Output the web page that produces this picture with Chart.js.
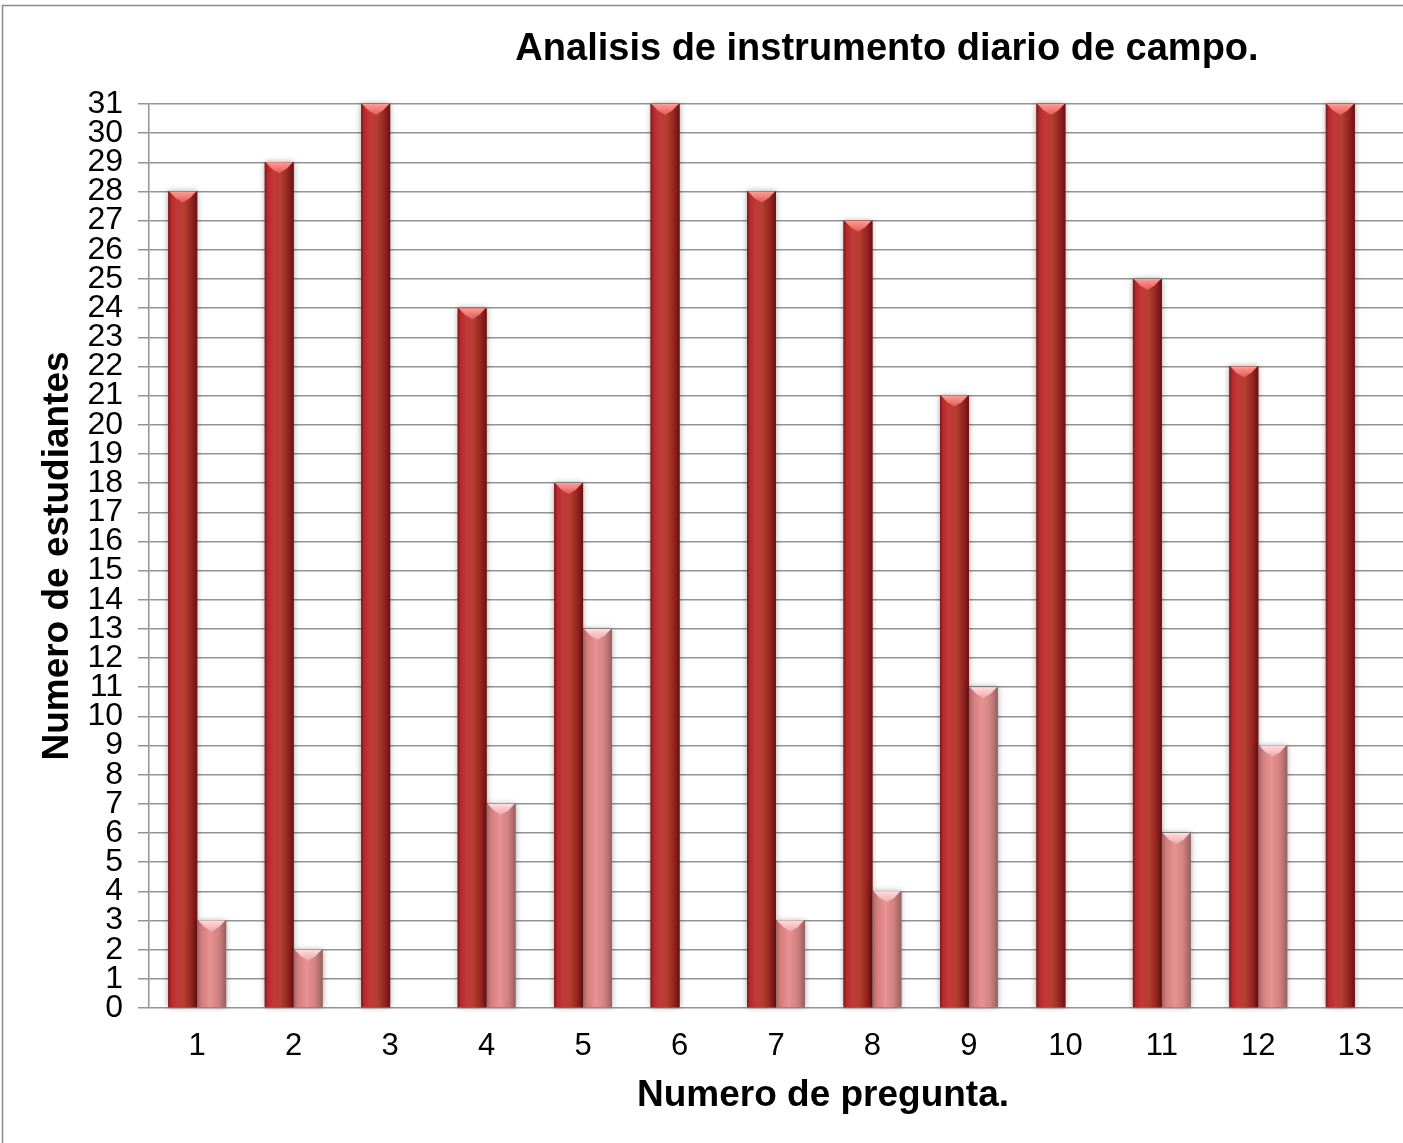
<!DOCTYPE html>
<html>
<head>
<meta charset="utf-8">
<script src="https://cdn.jsdelivr.net/npm/chart.js@4"></script>
<style>
    body { margin: 0; background: #ffffff; }
    #wrap { width: 1403px; height: 1143px; }
</style>
</head>
<body>
<div id="wrap"><canvas id="grafico" width="1403" height="1143"></canvas></div>
<script>
// Datos del grafico
const preguntas = ['1', '2', '3', '4', '5', '6', '7', '8', '9', '10', '11', '12', '13'];
const serieSi = [28, 29, 31, 24, 18, 31, 28, 27, 21, 31, 25, 22, 31];
const serieNo = [3, 2, 0, 7, 13, 0, 3, 4, 11, 0, 6, 9, 0];
const maxEje = 31;

const tituloGrafico = 'Analisis de instrumento diario de campo.';
const tituloEjeX = 'Numero de pregunta.';
const tituloEjeY = 'Numero de estudiantes';

const fuente = '"Liberation Sans", Arial, sans-serif';

// Gradient styles for the bevelled bars
const estilos = [
    {
        stops: [[0, '#7c1818'], [0.1, '#b42a2c'], [0.3, '#c4383a'], [0.55, '#b2402f'], [0.8, '#962422'], [1, '#6a1212']],
        cap: ['#e25a5a', '#ff9c94']
    },
    {
        stops: [[0, '#a06262'], [0.15, '#d27c7c'], [0.45, '#e99292'], [0.75, '#cf8080'], [1, '#956060']],
        cap: ['#f0a8a8', '#ffdcdc']
    }
];

// Frame, titles and bevelled bars
const decorPlugin = {
    id: 'decor',
    beforeDraw(chart) {
        const ctx = chart.ctx;
        ctx.save();
        ctx.fillStyle = '#ffffff';
        ctx.fillRect(0, 0, chart.width, chart.height);
        ctx.strokeStyle = '#8a8a8a';
        ctx.lineWidth = 1.5;
        ctx.strokeRect(2.5, 5.5, chart.width + 10, chart.height + 10);
        ctx.restore();
    },
    afterDatasetsDraw(chart) {
        const ctx = chart.ctx;
        chart.data.datasets.forEach((ds, di) => {
            const meta = chart.getDatasetMeta(di);
            const est = estilos[di];
            meta.data.forEach((bar, i) => {
                if (!ds.data[i]) return;
                const p = bar.getProps(['x', 'y', 'base', 'width'], true);
                const left = p.x - p.width / 2;
                const right = p.x + p.width / 2;
                const top = p.y;
                const h = p.base - p.y;

                ctx.save();
                ctx.shadowColor = 'rgba(0,0,0,0.35)';
                ctx.shadowBlur = 6;
                const g = ctx.createLinearGradient(left, 0, right, 0);
                est.stops.forEach(s => g.addColorStop(s[0], s[1]));
                ctx.fillStyle = g;
                ctx.fillRect(left, top, p.width, h);
                ctx.restore();

                // top bevel
                const capH = Math.min(11, h / 2);
                ctx.save();
                const cg = ctx.createLinearGradient(0, top, 0, top + capH);
                cg.addColorStop(0, est.cap[1]);
                cg.addColorStop(1, est.cap[0]);
                ctx.fillStyle = cg;
                ctx.beginPath();
                ctx.moveTo(left + 1, top);
                ctx.lineTo(right - 1, top);
                ctx.lineTo(right - p.width * 0.25, top + capH * 0.6);
                ctx.lineTo(p.x, top + capH);
                ctx.lineTo(left + p.width * 0.25, top + capH * 0.6);
                ctx.closePath();
                ctx.fill();
                ctx.restore();
            });
        });
    },
    afterDraw(chart) {
        const ctx = chart.ctx;
        ctx.save();
        ctx.fillStyle = '#000000';
        ctx.textAlign = 'center';
        ctx.textBaseline = 'alphabetic';
        ctx.font = 'bold 38px ' + fuente;
        ctx.fillText(tituloGrafico, 887, 60);
        ctx.font = 'bold 37px ' + fuente;
        ctx.fillText(tituloEjeX, 823, 1106);
        ctx.restore();
    }
};

const ctx = document.getElementById('grafico');
new Chart(ctx, {
    type: 'bar',
    data: {
        labels: preguntas,
        datasets: [
            {
                label: 'Si',
                data: serieSi,
                backgroundColor: '#b0302e',
                borderWidth: 0,
                barPercentage: 1,
                categoryPercentage: 0.6
            },
            {
                label: 'No',
                data: serieNo,
                backgroundColor: '#e08c8c',
                borderWidth: 0,
                barPercentage: 1,
                categoryPercentage: 0.6
            }
        ]
    },
    options: {
        responsive: false,
        animation: false,
        layout: {
            padding: { top: 104, right: 0, left: 0, bottom: 0 }
        },
        plugins: {
            legend: { display: false },
            tooltip: { enabled: false },
            title: { display: false }
        },
        scales: {
            x: {
                grid: { display: false },
                border: { display: false },
                ticks: {
                    color: '#000000',
                    padding: 12,
                    autoSkip: false,
                    maxRotation: 0,
                    font: { family: fuente, size: 31 }
                },
                afterFit(scale) { scale.height = 135; }
            },
            y: {
                min: 0,
                max: maxEje,
                grid: {
                    color: '#939393',
                    lineWidth: 1.5,
                    tickLength: 11
                },
                border: { display: true, color: '#939393', width: 1.5 },
                ticks: {
                    stepSize: 1,
                    autoSkip: false,
                    color: '#000000',
                    padding: 15,
                    font: { family: fuente, size: 32 }
                },
                title: {
                    display: true,
                    text: tituloEjeY,
                    color: '#000000',
                    padding: { top: 36, bottom: 0 },
                    font: { family: fuente, size: 37, weight: 'bold' }
                },
                afterFit(scale) { scale.width = 149; }
            }
        }
    },
    plugins: [decorPlugin]
});
</script>
</body>
</html>
